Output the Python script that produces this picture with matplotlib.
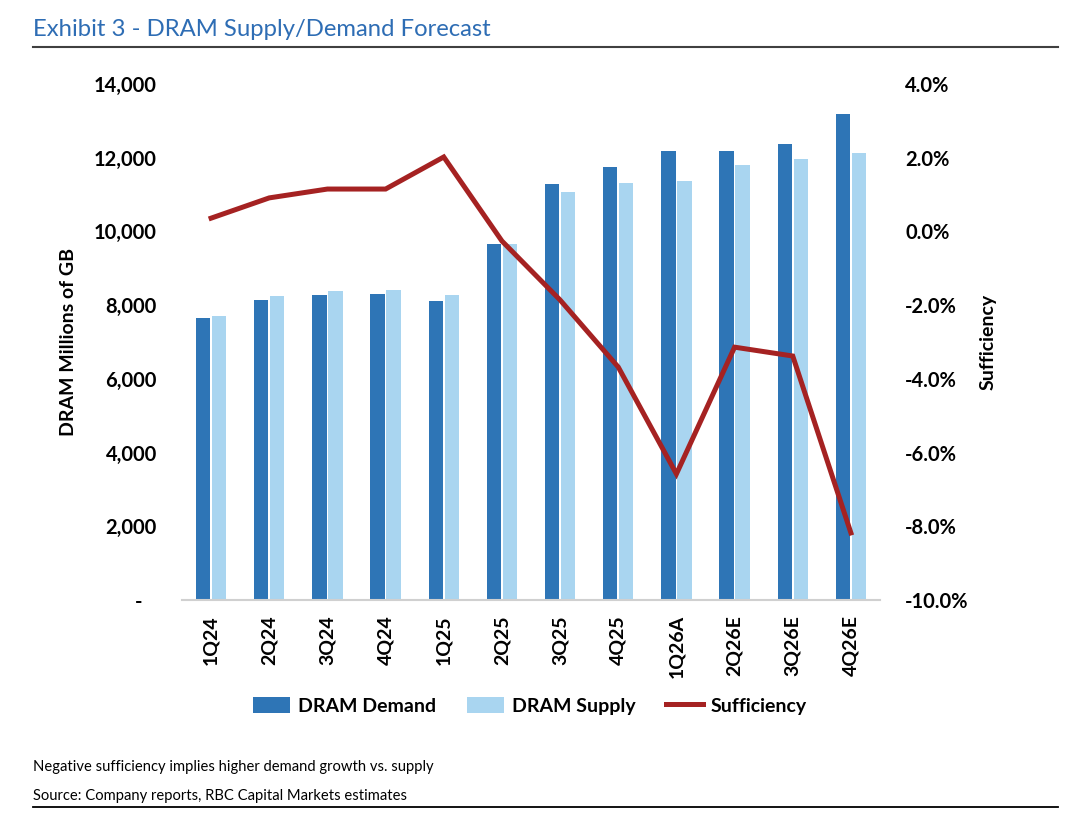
import matplotlib.pyplot as plt
import numpy as np
from matplotlib.ticker import FuncFormatter

quarters = ['1Q24', '2Q24', '3Q24', '4Q24', '1Q25', '2Q25', '3Q25', '4Q25',
            '1Q26A', '2Q26E', '3Q26E', '4Q26E']
demand = [7650, 8140, 8275, 8300, 8110, 9660, 11290, 11750, 12180, 12180, 12370, 13190]
supply = [7700, 8250, 8385, 8410, 8275, 9660, 11070, 11315, 11370, 11800, 11965, 12130]
sufficiency = [0.36, 0.91, 1.15, 1.15, 2.02, -0.26, -1.86, -3.68, -6.58, -3.14, -3.38, -8.18]

plt.rcParams['font.family'] = ['Lato', 'DejaVu Sans']

c_dem = '#2E75B6'
c_sup = '#A9D5F0'
c_line = '#A52222'

fig = plt.figure(figsize=(10.78, 8.22), dpi=100)
ax = fig.add_axes([182/1078, 1 - 600/822, 698/1078, 516/822])
ax2 = ax.twinx()

x = np.arange(len(quarters))
w = 0.245
ax.bar(x - w/2 - 0.015, demand, w, color=c_dem, label='DRAM Demand', zorder=2)
ax.bar(x + w/2 + 0.015, supply, w, color=c_sup, label='DRAM Supply', zorder=2)
ax2.plot(x, sufficiency, color=c_line, lw=3.6, label='Sufficiency', solid_joinstyle='miter')

ax.set_xlim(-0.5, len(quarters) - 0.5)
ax.set_ylim(0, 14000)
ax.set_yticks(range(0, 14001, 2000))
ax.yaxis.set_major_formatter(FuncFormatter(lambda v, p: '-   ' if v == 0 else f'{v:,.0f}'))
ax2.set_ylim(-10, 4)
ax2.set_yticks(range(-10, 5, 2))
ax2.yaxis.set_major_formatter(FuncFormatter(lambda v, p: f'{v:.1f}%'))

ax.set_xticks(x)
ax.set_xticklabels(quarters, rotation=90, fontsize=14, fontweight='bold')
for a in (ax, ax2):
    for s in a.spines.values():
        s.set_visible(False)
    a.tick_params(length=0)
ax.spines['bottom'].set_visible(True)
ax.spines['bottom'].set_color('#D0D0D0')
ax.spines['bottom'].set_linewidth(1.5)
ax.tick_params(axis='y', labelsize=14.5, pad=18)
ax.tick_params(axis='x', pad=11)
ax2.tick_params(axis='y', labelsize=14.5, pad=18)
for lab in ax.get_yticklabels() + ax2.get_yticklabels():
    lab.set_fontweight('bold')

ax.set_ylabel('DRAM Millions of GB', fontsize=14, fontweight='bold', labelpad=12)
ax2.set_ylabel('Sufficiency', fontsize=14, fontweight='bold', labelpad=8)

h1, l1 = ax.get_legend_handles_labels()
h2, l2 = ax2.get_legend_handles_labels()
fig.legend(h1 + h2, l1 + l2, loc='center', bbox_to_anchor=(530/1078, 1 - 706/822),
           ncol=3, frameon=False, prop={'size': 14, 'weight': 'bold'},
           handlelength=1.9, handleheight=0.9, columnspacing=1.6, handletextpad=0.4)

fig.text(33/1078, 1 - 29/822, 'Exhibit 3 - DRAM Supply/Demand Forecast', fontsize=17.2,
         color='#2E6DB4', va='center')
fig.add_artist(plt.Line2D([33/1078, 1058/1078], [1 - 47/822, 1 - 47/822],
                          color='#404040', lw=1.5))
fig.text(33/1078, 1 - 767/822, 'Negative sufficiency implies higher demand growth vs. supply',
         fontsize=10.6, va='center')
fig.text(33/1078, 1 - 796/822, 'Source: Company reports, RBC Capital Markets estimates',
         fontsize=10.6, va='center')
fig.add_artist(plt.Line2D([33/1078, 1058/1078], [1 - 807/822, 1 - 807/822],
                          color='black', lw=1.3))

fig.savefig('out.png', dpi=100)
